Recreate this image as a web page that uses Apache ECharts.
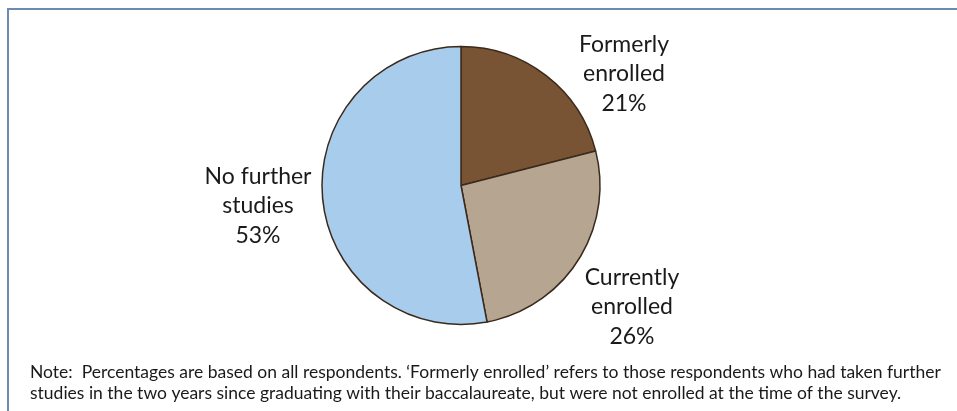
<!DOCTYPE html>
<html>
<head>
<meta charset="utf-8">
<script src="https://cdn.jsdelivr.net/npm/echarts@6/dist/echarts.min.js"></script>
<style>
  html, body { margin: 0; padding: 0; background: #ffffff; }
  #chart { width: 957px; height: 411px; }
</style>
</head>
<body>
<div id="chart"></div>
<script>
// Post-graduation study status of respondents (share of all respondents, %)
var categories = ['Formerly\nenrolled', 'Currently\nenrolled', 'No further\nstudies'];
var shares = [21, 26, 53];
var sliceColors = ['#785434', '#b5a591', '#a8cdec'];
var noteLines = [
  "Note:  Percentages are based on all respondents. \u2018Formerly enrolled\u2019 refers to those respondents who had taken further",
  "studies in the two years since graduating with their baccalaureate, but were not enrolled at the time of the survey."
];

// Where each slice's caption sits (centre of the text block)
var labelSpots = [[624, 74], [632, 307], [258, 206]];

var chart = echarts.init(document.getElementById('chart'), null, { renderer: 'canvas' });

var pieData = categories.map(function (name, i) {
  return { name: name, value: shares[i], itemStyle: { color: sliceColors[i] } };
});

chart.setOption({
  animation: false,
  backgroundColor: '#ffffff',
  graphic: [
    {
      type: 'polyline',
      shape: { points: [[8, 420], [8, 9], [970, 9]] },
      style: { stroke: '#6b8bb3', lineWidth: 2, fill: null }
    },
    {
      type: 'text',
      left: 30,
      top: 362,
      style: {
        text: noteLines.join('\n'),
        font: '17.5px Lato',
        lineHeight: 21,
        fill: '#1a1a1a'
      }
    }
  ],
  series: [{
    type: 'pie',
    center: [461, 185.5],
    radius: 139,
    startAngle: 90,
    clockwise: true,
    silent: true,
    itemStyle: { borderColor: '#3b2a1c', borderWidth: 1.5 },
    label: {
      show: true,
      position: 'outside',
      formatter: function (p) { return p.name + '\n' + p.value + '%'; },
      fontFamily: 'Lato',
      fontSize: 23,
      lineHeight: 29.5,
      color: '#1a1a1a',
      align: 'center'
    },
    labelLine: { show: false },
    labelLayout: function (params) {
      var s = labelSpots[params.dataIndex];
      return { x: s[0], y: s[1], align: 'center', verticalAlign: 'middle' };
    },
    data: pieData
  }]
});
</script>
</body>
</html>
